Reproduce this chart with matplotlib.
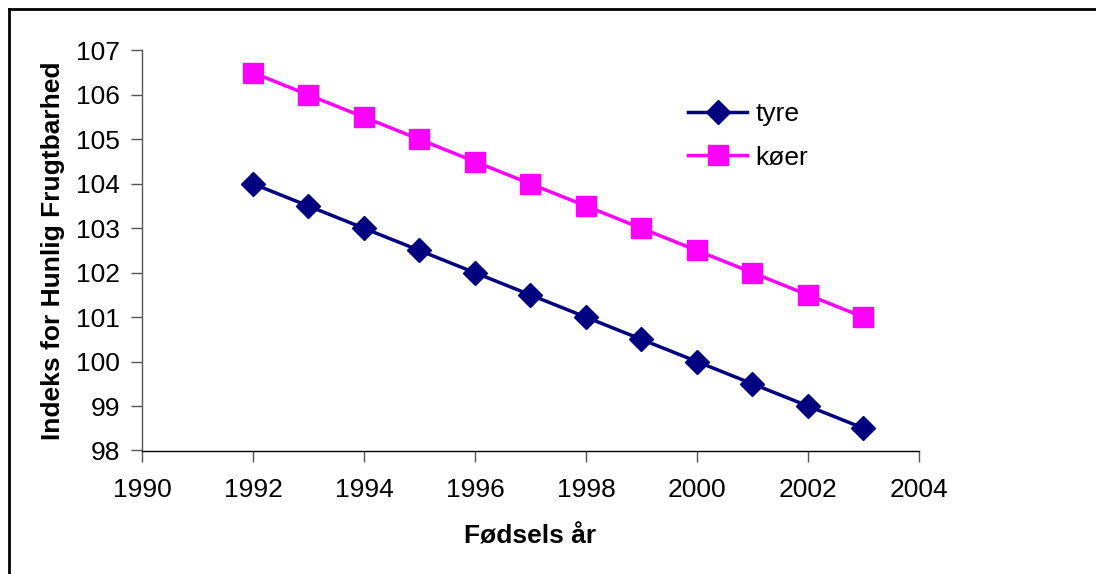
import matplotlib.pyplot as plt
from matplotlib.lines import Line2D

# Data
aar = [1992, 1993, 1994, 1995, 1996, 1997, 1998, 1999, 2000, 2001, 2002, 2003]
tyre = [104.0, 103.5, 103.0, 102.5, 102.0, 101.5, 101.0, 100.5, 100.0, 99.5, 99.0, 98.5]
koeer = [106.5, 106.0, 105.5, 105.0, 104.5, 104.0, 103.5, 103.0, 102.5, 102.0, 101.5, 101.0]

x_ticks = [1990, 1992, 1994, 1996, 1998, 2000, 2002, 2004]
y_ticks = [98, 99, 100, 101, 102, 103, 104, 105, 106, 107]

plt.rcParams['font.family'] = ['Liberation Sans', 'DejaVu Sans']
fs = 19

W, H = 1096, 574
fig = plt.figure(figsize=(W / 100, H / 100), dpi=100)
ax = fig.add_axes([142 / W, 1 - 450.5 / H, (919 - 142) / W, (450.5 - 50.5) / H])

ax.plot(aar, tyre, color='#000080', lw=2.5, marker='D', ms=12, mew=1,
        label='tyre')
ax.plot(aar, koeer, color='#FF00FF', lw=2.5, marker='s', ms=14, mew=1,
        label='køer')

ax.set_xlim(1990, 2004)
ax.set_ylim(98, 107)
ax.set_xticks(x_ticks)
ax.set_yticks(y_ticks)

for side in ['top', 'right']:
    ax.spines[side].set_visible(False)
for side in ['left', 'bottom']:
    ax.spines[side].set_linewidth(1.0)
ax.spines['left'].set_color('#555555')

ax.tick_params(axis='both', direction='out', length=8, width=1,
               labelsize=fs, color='#555555')
ax.tick_params(axis='x', pad=12)
ax.tick_params(axis='y', pad=8)

ax.set_xlabel('Fødsels år', fontsize=fs, fontweight='bold', labelpad=16)
ax.set_ylabel('Indeks for Hunlig Frugtbarhed', fontsize=fs,
              fontweight='bold', labelpad=8)

leg = ax.legend(loc='upper left', bbox_to_anchor=(688 / W, 1 - 102 / H),
                bbox_transform=fig.transFigure, frameon=False, fontsize=fs,
                handlelength=2.25, handletextpad=0.3, labelspacing=0.74,
                borderpad=0, borderaxespad=0)

# ramme rundt om diagrammet
fig.add_artist(Line2D([8.5 / W, 1], [1 - 8.5 / H, 1 - 8.5 / H], color='black',
                      lw=2, transform=fig.transFigure))
fig.add_artist(Line2D([8.5 / W, 8.5 / W], [0, 1 - 8.5 / H], color='black',
                      lw=2, transform=fig.transFigure))

fig.savefig('out.png', dpi=100)
